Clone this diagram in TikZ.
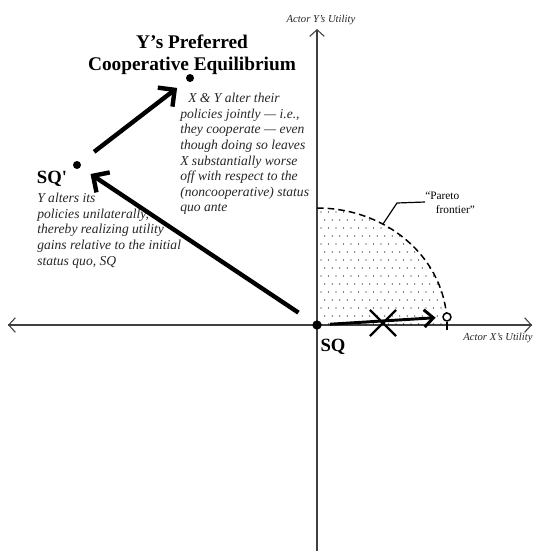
\documentclass[tikz,border=0pt]{standalone}
\usepackage{fontspec}
\setmainfont{Liberation Serif}
\usetikzlibrary{positioning,arrows.meta,shapes.misc}

\begin{document}
\begin{tikzpicture}[x=0.75pt,y=-0.75pt,
    axis/.style={-{Straight Barb[length=5pt,width=11pt]}, line width=0.8pt, color=black!75},
    move/.style={-{Straight Barb[length=9pt,width=18pt]}, line width=3.3pt},
    dot/.style={circle, fill, inner sep=0pt, minimum size=6pt},
    note/.style={align=left, inner sep=0pt, font=\fontsize{10.2}{11.7}\selectfont\itshape, color=black!85},
    big/.style={inner sep=0pt, font=\fontsize{14}{16.5}\selectfont\bfseries},
    axlabel/.style={inner sep=0pt, font=\fontsize{8}{9}\selectfont\itshape, color=black!85}
  ]
  \useasboundingbox (0,0) rectangle (534,551);

  % axes
  \coordinate (xl) at (8,325);   \coordinate (xr) at (532,325);
  \coordinate (yt) at (317,29);  \coordinate (yb) at (317,556);
  \draw[axis] (yb) -- (yt);
  \draw[axis] (xr) -- (xl);
  \draw[axis] (xl) -- (xr);
  \node[axlabel] (ylab) at (321,20) {Actor Y's Utility};
  \node[axlabel] (xlab) at (498,338) {Actor X's Utility};

  % feasible set
  \begin{scope}
    \clip (317,325) -- (317,208) arc[start angle=-90, end angle=0, x radius=130, y radius=117] -- cycle;
    \foreach \j in {0,...,14}
      \foreach \i in {0,...,19}
        \fill ({321+7.5*\i+mod(\j,2)*3.7},{212+8*\j}) circle (0.6);
  \end{scope}
  \draw[dashed, line width=1.1pt, dash pattern=on 5pt off 3pt]
    (317,208) arc[start angle=-90, end angle=-4, x radius=130, y radius=117];

  % points
  \node[dot, minimum size=7pt] (sq) at (317,325) {};
  \node[dot] (sqp) at (77,165) {};
  \node[dot] (pe) at (190,78) {};
  \node[circle, draw, fill=white, line width=1.1pt, inner sep=0pt, minimum size=6pt] (pf) at (447,317) {};
  \draw[line width=1pt] (pf.south) -- ++(0,8);

  % labels
  \node[big, font=\fontsize{14.5}{16.5}\selectfont\bfseries, align=center] (title) at (192,55)
    {Y’s Preferred\\Cooperative Equilibrium};
  \node[big] (sqplab) at (52,179) {SQ\textquotesingle};
  \node[big] (sqlab) at (333,347) {SQ};
  \node[note, anchor=north west] (coop) at (180,93)
    {\hspace*{6pt}X \& Y alter their\\policies jointly — i.e.,\\they cooperate — even\\though doing so leaves\\X substantially worse\\off with respect to the\\(noncooperative) status\\quo ante};
  \node[note, anchor=north west] (unil) at (37,193)
    {Y alters its\\policies unilaterally,\\thereby realizing utility\\gains relative to the initial\\status quo, SQ};
  \node[inner sep=0pt, align=left, font=\fontsize{8.5}{10.5}\selectfont, anchor=north west] (pareto) at (425,192)
    {“Pareto\\\hspace*{8pt}frontier”};
  \coordinate (lead) at (383,224);
  \draw[line width=0.9pt] (lead) -- (397,203) -- (pareto.west |- 0,202);

  % moves
  \draw[move, shorten <=13pt, shorten >=9pt] (sq) -- (sqp);
  \draw[move, shorten <=13pt, shorten >=9pt] (sqp) -- (pe);
  \draw[move, line width=2.2pt, -{Straight Barb[length=7pt,width=13pt]}, shorten <=6pt, shorten >=5pt] (sq) -- (pf);
  \node[cross out, draw, line width=1.6pt, minimum width=18pt, minimum height=18pt] (veto) at (383,323) {};
\end{tikzpicture}
\end{document}
